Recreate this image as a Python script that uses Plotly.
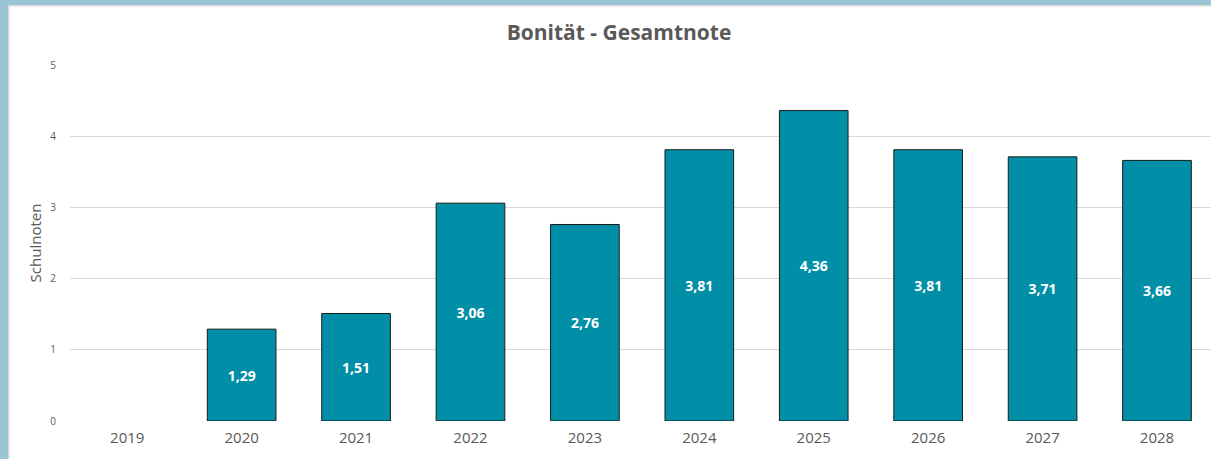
import plotly.graph_objects as go

years = ["2019", "2020", "2021", "2022", "2023", "2024", "2025", "2026", "2027", "2028"]
scores = [0.0, 1.29, 1.51, 3.06, 2.76, 3.81, 4.36, 3.81, 3.71, 3.66]
labels = ["" if v == 0 else f"{v:.2f}".replace(".", ",") for v in scores]

W, H = 1211, 459
ML, MR, MT, MB = 70, 0, 65, 38
pw = W - ML - MR
ph = H - MT - MB

fig = go.Figure(go.Bar(
    x=list(range(len(years))), y=scores, text=labels,
    textposition="inside", insidetextanchor="middle", textangle=0,
    textfont=dict(family="Open Sans", size=14, color="white", weight="bold"),
    marker=dict(color="#008FA6",
                line=dict(color="#1a1a1a", width=[0 if v == 0 else 1 for v in scores])),
    width=0.6, cliponaxis=False,
))

def px_x(p):
    return (p - ML) / pw

def px_y(p):
    return 1 - (p - MT) / ph

shapes = [
    dict(type="rect", xref="paper", yref="paper", x0=px_x(0), x1=px_x(W), y0=px_y(0), y1=px_y(5),
         fillcolor="#99C5D4", line_width=0, layer="above"),
    dict(type="rect", xref="paper", yref="paper", x0=px_x(0), x1=px_x(8), y0=px_y(0), y1=px_y(H),
         fillcolor="#99C5D4", line_width=0, layer="above"),
    dict(type="rect", xref="paper", yref="paper", x0=px_x(8), x1=px_x(W), y0=px_y(5), y1=px_y(6.5),
         fillcolor="#D9D9D9", line_width=0, layer="above"),
    dict(type="rect", xref="paper", yref="paper", x0=px_x(8), x1=px_x(9.5), y0=px_y(5), y1=px_y(H),
         fillcolor="#D9D9D9", line_width=0, layer="above"),
]

fig.update_layout(
    width=W, height=H,
    margin=dict(l=ML, r=MR, t=MT, b=MB, autoexpand=False),
    paper_bgcolor="white", plot_bgcolor="white",
    title=dict(text="<b>Bonität - Gesamtnote</b>", x=(506 + 732) / 2 / W, xanchor="center",
               y=1 - 33 / H, yanchor="middle",
               font=dict(family="Open Sans", size=21, color="#595959")),
    xaxis=dict(range=[-0.5, 9.472], tickmode="array", tickvals=list(range(len(years))), ticktext=years,
               showgrid=False, zeroline=False, showline=False, ticks="", ticklabelstandoff=6,
               tickfont=dict(family="Open Sans", size=15, color="#595959")),
    yaxis=dict(range=[0, 5], dtick=1, showgrid=True, gridcolor="#D9D9D9", gridwidth=1,
               zeroline=False, showline=False, ticks="", ticklabelstandoff=13,
               tickfont=dict(family="Open Sans", size=10, color="#595959"),
               title=dict(text="Schulnoten", standoff=5,
                          font=dict(family="Open Sans", size=15, color="#595959"))),
    shapes=shapes,
    showlegend=False,
    bargap=0.4,
)

fig.write_html("out.html", config={"displayModeBar": False},
               post_script="document.body.style.margin='0';")
